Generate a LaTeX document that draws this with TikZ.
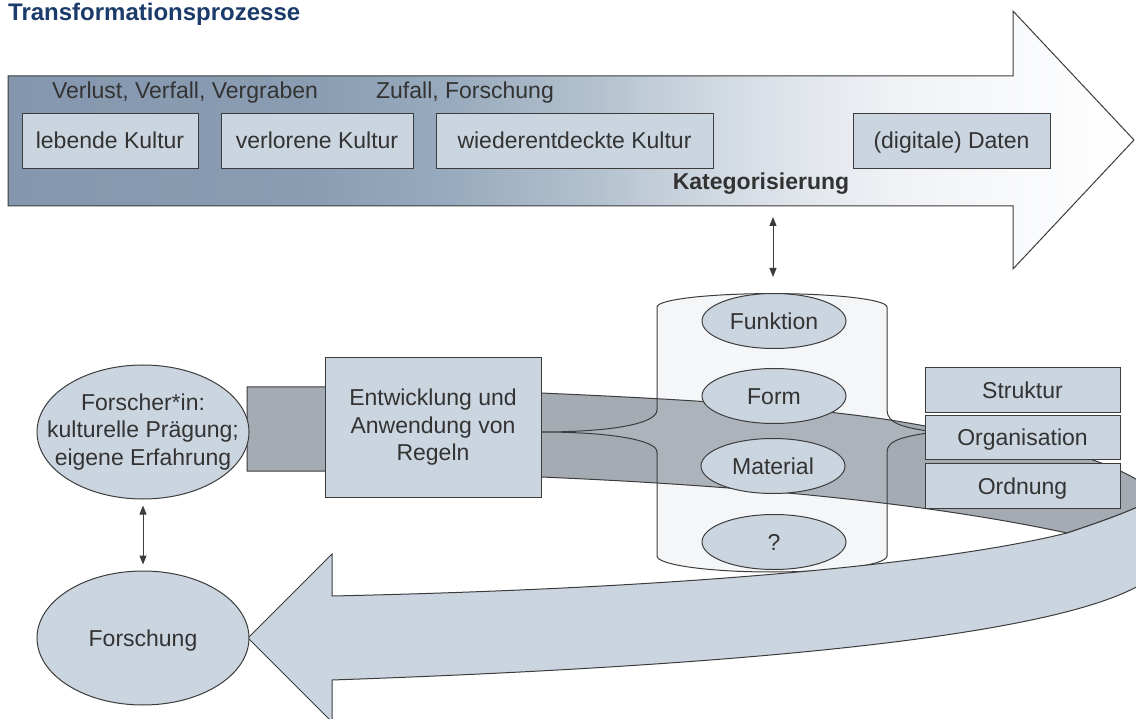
\documentclass[tikz,border=0pt]{standalone}
\usepackage{fontspec}
\setmainfont{Liberation Sans}
\usetikzlibrary{arrows.meta,shapes.geometric}
\definecolor{linec}{HTML}{3C3C3C}
\definecolor{txtc}{HTML}{333333}
\definecolor{boxc}{HTML}{CBD5E0}
\definecolor{bandc}{HTML}{A4ABB3}
\definecolor{bandin}{HTML}{ADB3BB}
\definecolor{cylc}{HTML}{F5F6F8}
\definecolor{titlec}{HTML}{1B3B6B}
\definecolor{ga}{HTML}{8497AE}
\definecolor{gb}{HTML}{899CB2}
\definecolor{gc}{HTML}{98AABD}
\definecolor{gd}{HTML}{B4C2CF}
\definecolor{ge}{HTML}{CDD6DF}
\definecolor{gf}{HTML}{E1E6EC}
\definecolor{gg}{HTML}{F0F2F5}
\definecolor{gh}{HTML}{F7F8FA}
\pgfdeclarehorizontalshading{topgrad}{100bp}{color(0bp)=(ga); color(25bp)=(ga); color(38bp)=(gb); color(44.6bp)=(gc); color(51.3bp)=(gd); color(55.7bp)=(ge); color(60.2bp)=(gf); color(64.6bp)=(gg); color(69bp)=(gh); color(75bp)=(white); color(100bp)=(white)}
\newcommand{\myfs}{\fontsize{23}{27.5}\selectfont}
\newcommand{\myts}{\fontsize{24}{28}\selectfont}
\def\bandpath{(247,387) -- (325,387) -- (541,393) .. controls (700,400) and (830,408) .. (925,426) .. controls (1010,438) and (1110,452) .. (1160,496) .. controls (1135,510) and (1100,522) .. (1067,533) .. controls (960,510) and (800,488) .. (541,477) -- (325,471) -- (247,471) -- cycle}
\def\lightpath{(1067,533) .. controls (1100,522) and (1135,510) .. (1160,496) .. controls (1185,515) and (1185,570) .. (1140,585) .. controls (1070,625) and (850,662) .. (332,680) -- (332,722) -- (248,638) -- (332,554) -- (332,596) .. controls (700,588) and (950,562) .. (1067,533) -- cycle}
\def\cylpath{(657,307) .. controls (657,299.6) and (708.5,293.6) .. (772,293.6) .. controls (835.5,293.6) and (887,299.6) .. (887,307) -- (887,410) .. controls (887,424) and (905,428) .. (935,432) .. controls (905,436) and (887,440) .. (887,452) -- (887,556) .. controls (887,564.8) and (835.5,572) .. (772,572) .. controls (708.5,572) and (657,564.8) .. (657,556) -- (657,452) .. controls (657,440) and (610,432) .. (541,432) .. controls (610,432) and (657,424) .. (657,410) -- cycle}
\begin{document}
\begin{tikzpicture}[x=1pt,y=-1pt,
  lbl/.style={font=\myfs, text=txtc, inner sep=0pt},
  lblb/.style={font=\myfs\bfseries, text=txtc, inner sep=0pt},
  ttl/.style={font=\myts\bfseries, text=titlec, inner sep=0pt},
  boxn/.style={draw=linec, fill=boxc, line width=1pt, font=\myfs, text=txtc, inner sep=0pt, text height=16.5pt, text depth=0pt},
  mboxn/.style={draw=linec, fill=boxc, line width=1pt, font=\myfs, text=txtc, inner sep=0pt, align=center},
  elln/.style={ellipse, draw=linec, fill=boxc, line width=1pt, font=\myfs, text=txtc, inner sep=0pt, text height=16.5pt, text depth=0pt},
  dbl/.style={{Triangle[length=9pt,width=7pt]}-{Triangle[length=9pt,width=7pt]}, draw=linec, line width=1pt},
  edge/.style={draw=linec, line width=1pt}
]
\useasboundingbox (0,0) rectangle (1136,719);

% title
\node[ttl, anchor=base west] (title) at (8,21) {Transformationsprozesse};

% top arrow
\path[shade, shading=topgrad, draw=linec, line width=1pt] (8,76) -- (1013,76) -- (1013,11) -- (1134,140) -- (1013,269) -- (1013,206) -- (8,206) -- cycle;

\node[lbl, anchor=base] (verlust) at (185,98.5) {Verlust, Verfall, Vergraben};
\node[lbl, anchor=base] (zufall) at (465,98.5) {Zufall, Forschung};
\node[boxn, minimum width=176pt, minimum height=55pt] (lebende) at (110,140.7) {lebende Kultur};
\node[boxn, minimum width=192pt, minimum height=55pt] (verloren) at (317,140.7) {verlorene Kultur};
\node[boxn, minimum width=277pt, minimum height=55pt] (wieder) at (574.5,140.7) {wiederentdeckte Kultur};
\node[boxn, minimum width=197pt, minimum height=55pt] (daten) at (951.5,140.7) {(digitale) Daten};
\node[lblb, anchor=base] (kat) at (761,190) {Kategorisierung};

% cylinder background
\fill[cylc] \cylpath;
% dark band
\fill[bandc] \bandpath;
\begin{scope}
  \clip \cylpath;
  \fill[bandin] \bandpath;
\end{scope}
\path[edge] \bandpath;
\path[edge] \cylpath;
% light band (bottom arrow)
\path[edge, fill=boxc] \lightpath;

% ellipses in cylinder
\node[elln, minimum width=144pt, minimum height=55pt] (funktion) at (774,321) {Funktion};
\node[elln, minimum width=144pt, minimum height=55pt] (form) at (774,396) {Form};
\node[elln, minimum width=144pt, minimum height=55pt] (material) at (773,466) {Material};
\node[elln, minimum width=144pt, minimum height=55pt] (frage) at (774,542) {?};

% right boxes
\node[boxn, minimum width=195pt, minimum height=44.5pt] (struktur) at (1022.5,390) {Struktur};
\node[boxn, minimum width=195pt, minimum height=44.3pt] (organisation) at (1022.5,437.2) {Organisation};
\node[boxn, minimum width=195pt, minimum height=45pt] (ordnung) at (1022.5,485.8) {Ordnung};

% rule box
\node[mboxn, minimum width=216pt, minimum height=139pt] (regeln) at (433,427.5) {Entwicklung und\\Anwendung von\\Regeln};

% left ellipses
\node[elln, minimum width=212pt, minimum height=134pt] (forscher) at (143,432) {};
\node[lbl, align=center, font=\myfs] (forschertext) at (forscher.center) {Forscher*in:\\kulturelle Prägung;\\eigene Erfahrung};
\node[elln, minimum width=212pt, minimum height=134pt] (forschung) at (143,638) {Forschung};

% arrows
\coordinate (katA) at (773,217);
\coordinate (katB) at (773,277);
\draw[dbl] (katA) -- (katB);
\draw[dbl] ([yshift=-6pt]forscher.south) -- ([yshift=6pt]forschung.north);
\end{tikzpicture}
\end{document}
